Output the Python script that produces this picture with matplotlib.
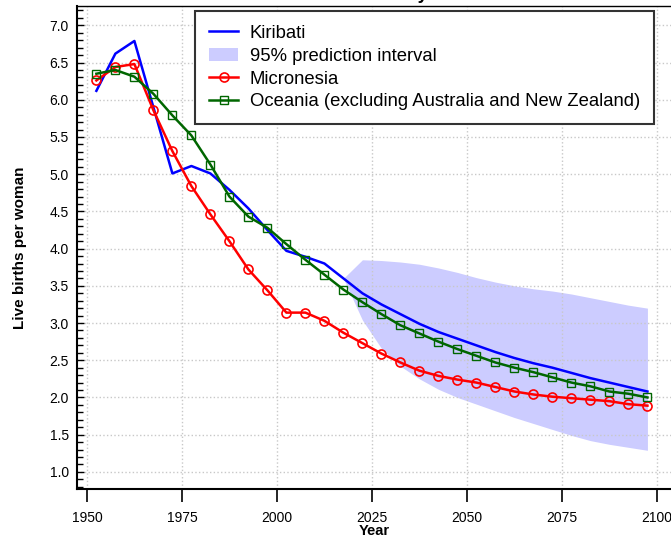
import matplotlib
matplotlib.use('Agg')
import matplotlib.pyplot as plt
from matplotlib.ticker import MultipleLocator

plt.rcParams['font.family'] = ['Liberation Sans', 'DejaVu Sans']

years = [1952.5 + 5 * i for i in range(30)]

kiribati = [6.12, 6.62, 6.79, 5.90, 5.01, 5.11, 5.01, 4.79, 4.54, 4.25,
            3.97, 3.89, 3.80, 3.60, 3.40, 3.25, 3.12, 2.99, 2.88, 2.79,
            2.70, 2.61, 2.53, 2.46, 2.40, 2.33, 2.26, 2.20, 2.14, 2.08]
micronesia = [6.26, 6.44, 6.48, 5.86, 5.31, 4.84, 4.46, 4.10, 3.72, 3.44,
              3.14, 3.14, 3.03, 2.87, 2.73, 2.59, 2.47, 2.36, 2.29, 2.24,
              2.20, 2.14, 2.08, 2.04, 2.01, 1.99, 1.97, 1.95, 1.91, 1.89]
oceania = [6.35, 6.40, 6.31, 6.08, 5.79, 5.52, 5.13, 4.70, 4.43, 4.28,
           4.06, 3.85, 3.65, 3.45, 3.28, 3.12, 2.97, 2.86, 2.75, 2.65,
           2.56, 2.47, 2.40, 2.34, 2.27, 2.20, 2.15, 2.08, 2.05, 2.00]

pi_years = years[13:]
pi_upper = [3.60, 3.85, 3.84, 3.82, 3.79, 3.74, 3.68, 3.61, 3.55, 3.50,
            3.46, 3.43, 3.39, 3.34, 3.29, 3.24, 3.20]
pi_lower = [3.60, 3.04, 2.66, 2.42, 2.25, 2.11, 2.00, 1.91, 1.82, 1.73,
            1.65, 1.57, 1.49, 1.42, 1.37, 1.33, 1.29]

fig = plt.figure(figsize=(6.71, 5.41), dpi=100)
ax = fig.add_axes([77 / 671, 52 / 541, 594 / 671, 483 / 541])

ax.plot(years, kiribati, color='#0000ff', lw=1.8, label='Kiribati', zorder=3)
ax.fill_between(pi_years, pi_lower, pi_upper, color='#ccccff', lw=0,
                label='95% prediction interval', zorder=1)
ax.plot(years, micronesia, color='#ff0000', lw=1.8, marker='o', ms=6.5,
        mfc='none', mec='#ff0000', mew=1.2, label='Micronesia', zorder=4)
ax.plot(years, oceania, color='#006600', lw=1.8, marker='s', ms=6,
        mfc='none', mec='#006600', mew=1.0,
        label='Oceania (excluding Australia and New Zealand)', zorder=5)

ax.set_xlim(1947.4, 2103.7)
ax.set_ylim(0.77, 7.26)
ax.set_xticks([1950, 1975, 2000, 2025, 2050, 2075, 2100])
ax.yaxis.set_major_locator(MultipleLocator(0.5))
ax.yaxis.set_minor_locator(MultipleLocator(0.1))
ax.yaxis.set_major_formatter(matplotlib.ticker.FormatStrFormatter('%.1f'))

ax.tick_params(axis='x', direction='out', length=9, width=1.2, pad=7, labelsize=10)
ax.tick_params(axis='y', which='major', direction='in', length=5, width=1, pad=6, labelsize=10)
ax.tick_params(axis='y', which='minor', direction='in', length=4, width=1)

ax.grid(True, which='major', color='#c8c8c8', ls=':', lw=1)
for s in ['left', 'bottom']:
    ax.spines[s].set_linewidth(1.5)
ax.spines['top'].set_linewidth(1)
ax.spines['right'].set_visible(False)

ax.set_ylabel('Live births per woman', fontsize=11, fontweight='bold', labelpad=16)
ax.set_xlabel('Year', fontsize=10.5, fontweight='bold', labelpad=-1)

leg = ax.legend(loc='upper left', bbox_to_anchor=(0.1987, 0.99), fontsize=13.3,
                frameon=True, fancybox=False, framealpha=1, edgecolor='#333333',
                handlelength=1.6, handletextpad=0.6, borderpad=0.75,
                labelspacing=0.32, borderaxespad=0)
leg.get_frame().set_linewidth(1.5)

fig.text(374 / 671, 1 + 1 / 541, 'Total fertility', ha='center', va='baseline',
         fontsize=13, fontweight='bold')

fig.savefig('out.png', dpi=100)
